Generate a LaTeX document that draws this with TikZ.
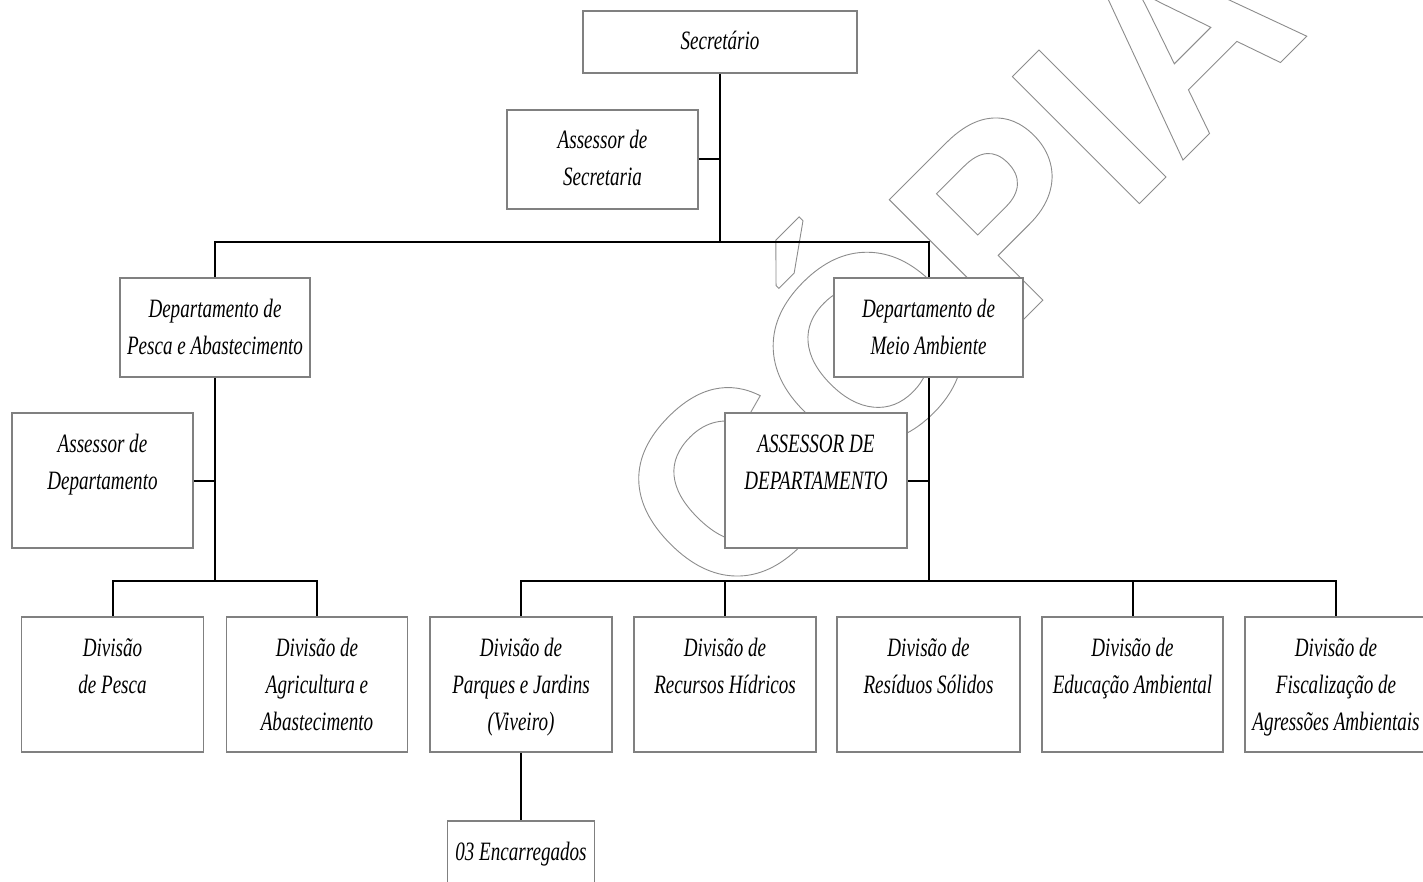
\documentclass[tikz,border=0pt]{standalone}
\usepackage{fontspec}
\newfontfamily\boxfont{Liberation Serif}[FakeStretch=0.72]
\newfontfamily\wmfont{Liberation Sans}
\definecolor{boxgray}{RGB}{128,128,128}
\definecolor{wmgray}{RGB}{140,140,140}

% hollow (stroked, unfilled) lettering for the watermark
\newcommand\hollow[1]{\special{pdf:literal direct 1 Tr 0.9 w}#1\special{pdf:literal direct 0 Tr}}
% box content: fixed-size cell, lines set from the top
\newcommand\cell[3]{\parbox[c][#2][t]{#1}{\centering\rule{0pt}{39pt}#3}}

\tikzset{
  orgbox/.style={draw=boxgray, line width=1.8pt, fill=white, inner sep=0pt,
                 font=\boxfont\itshape\fontsize{26.5}{37}\selectfont},
  conn/.style={draw=black, line width=2pt},
  wmark/.style={font=\wmfont\bfseries\fontsize{261}{261}\selectfont, text=wmgray,
                inner sep=0pt, anchor=base west, rotate=45}
}

\begin{document}
\begin{tikzpicture}[x=1pt, y=-1pt]
\useasboundingbox (0,0) rectangle (1423,882);
\clip (0,0) rectangle (1423,882);

% watermark behind the chart
\node[wmark] (wm) at (727,616) {\hollow{CÓPIA}};

% top level
\node[orgbox] (sec)  at (720,42)      {\cell{274pt}{62pt}{Secretário}};
\node[orgbox] (asec) at (602.5,159.5) {\cell{191pt}{99pt}{Assessor de\\Secretaria}};

% departments
\node[orgbox] (dpesca) at (215,327.5)   {\cell{190pt}{99pt}{Departamento de\\Pesca e Abastecimento}};
\node[orgbox] (dmeio)  at (928.5,327.5) {\cell{189pt}{99pt}{Departamento de\\Meio Ambiente}};
\node[orgbox] (adleft)  at (102.5,480.5) {\cell{181pt}{135pt}{Assessor de\\Departamento}};
\node[orgbox] (adright) at (816,480.5)   {\cell{182pt}{135pt}{ASSESSOR DE\\DEPARTAMENTO}};

% divisions
\node[orgbox] (dv1) at (112.5,684.5)  {\cell{182pt}{135pt}{Divisão\\de Pesca}};
\node[orgbox] (dv2) at (317,684.5)    {\cell{181pt}{135pt}{Divisão de\\Agricultura e\\Abastecimento}};
\node[orgbox] (dv3) at (521,684.5)    {\cell{182pt}{135pt}{Divisão de\\Parques e Jardins\\(Viveiro)}};
\node[orgbox] (dv4) at (725,684.5)    {\cell{182pt}{135pt}{Divisão de\\Recursos Hídricos}};
\node[orgbox] (dv5) at (928.5,684.5)  {\cell{183pt}{135pt}{Divisão de\\Resíduos Sólidos}};
\node[orgbox] (dv6) at (1132.5,684.5) {\cell{181pt}{135pt}{Divisão de\\Educação Ambiental}};
\node[orgbox] (dv7) at (1336,684.5)   {\cell{182pt}{135pt}{Divisão de\\Fiscalização de\\Agressões Ambientais}};

\node[orgbox] (enc) at (521,861) {\cell{147pt}{80pt}{03 Encarregados}};

% connectors
\draw[conn] (sec.south) -- (sec.south |- 0,243);
\draw[conn] (asec.east) -- (sec.south |- asec.east);
\draw[conn] (dpesca.north) -- ++(0,-35) -| (dmeio.north);
\draw[conn] (dv1.north) -- ++(0,-35) coordinate (lbus) -| (dv2.north);
\draw[conn] (dpesca.south) -- (dpesca.south |- lbus);
\draw[conn] (adleft.east) -- (dpesca.south |- adleft.east);
\draw[conn] (dv3.north) -- ++(0,-35) coordinate (rbus) -| (dv7.north);
\draw[conn] (dmeio.south) -- (dmeio.south |- rbus);
\draw[conn] (adright.east) -- (dmeio.south |- adright.east);
\draw[conn] (dv4.north) -- ++(0,-35);
\draw[conn] (dv6.north) -- ++(0,-35);
\draw[conn] (dv3.south) -- (enc.north);
\end{tikzpicture}
\end{document}
